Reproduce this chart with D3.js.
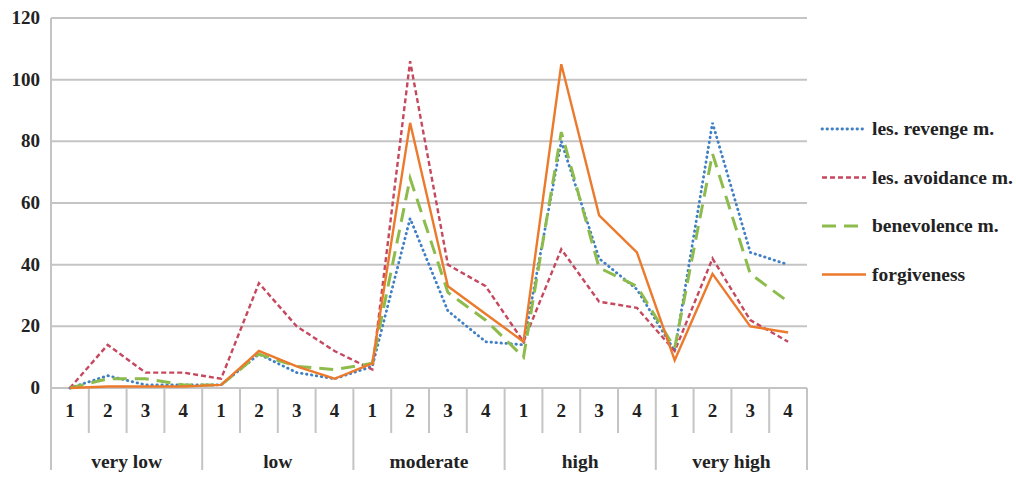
<!DOCTYPE html>
<html>
<head>
<meta charset="utf-8">
<script src="https://cdn.jsdelivr.net/npm/d3@7"></script>
<style>
  body { margin: 0; background: #fff; }
  text { font-family: "Liberation Serif", "DejaVu Serif", serif; fill: #222; }
</style>
</head>
<body>
<div id="chart"></div>
<script>
const groups = ["very low", "low", "moderate", "high", "very high"];
const subLabels = ["1", "2", "3", "4"];
const yTicks = [0, 20, 40, 60, 80, 100, 120];

const revenge     = [0, 4, 1, 1,   1, 11, 5, 3,   7, 55, 25, 15,   14, 80, 42, 32,   12, 86, 44, 40];
const avoidance   = [0, 14, 5, 5,  3, 34, 20, 12,  6, 106, 40, 33,  15, 45, 28, 26,   12, 42, 22, 15];
const benevolence = [0, 3, 3, 1,   1, 11, 7, 6,   8, 68, 31, 22,   10, 83, 39, 33,   13, 76, 37, 28];
const forgiveness = [0, 0.5, 0.5, 0.5, 1, 12, 7, 3, 8, 86, 33, 24, 15, 105, 56, 44, 9, 37, 20, 18];

const seriesNames = ["les. revenge m.", "les. avoidance m.", "benevolence m.", "forgiveness"];
const seriesValues = [revenge, avoidance, benevolence, forgiveness];
const seriesColors = ["#3f7fc4", "#c5485e", "#8dbb4c", "#ec7a2c"];
const seriesDash = ["0.5,4.5", "5,3", "14,8", null];
const seriesWidth = [2.8, 2.4, 3, 2.4];

const W = 1016, H = 480;
const plotLeft = 51, plotRight = 807, plotTop = 18, plotBottom = 388;

const svg = d3.select("#chart").append("svg")
    .attr("width", W).attr("height", H);

const cats = d3.range(groups.length * subLabels.length);

const x = d3.scaleBand()
    .domain(cats)
    .range([plotLeft, plotRight]);

const y = d3.scaleLinear()
    .domain([0, 120])
    .range([plotBottom, plotTop]);

// gridlines
svg.append("g").selectAll("line")
    .data(yTicks)
    .enter().append("line")
    .attr("x1", plotLeft).attr("x2", plotRight)
    .attr("y1", d => y(d)).attr("y2", d => y(d))
    .attr("stroke", "#c4c4c4").attr("stroke-width", 2);

// y axis labels
svg.append("g").selectAll("text")
    .data(yTicks)
    .enter().append("text")
    .attr("x", plotLeft - 11)
    .attr("y", d => y(d) + 6)
    .attr("text-anchor", "end")
    .attr("font-size", 19).attr("font-weight", "bold")
    .text(d => d);

// y axis line
svg.append("line")
    .attr("x1", plotLeft).attr("x2", plotLeft)
    .attr("y1", plotTop).attr("y2", 470)
    .attr("stroke", "#c4c4c4").attr("stroke-width", 2);

// category separators
svg.append("g").selectAll("line")
    .data(cats.concat([cats.length]))
    .enter().append("line")
    .attr("x1", d => d < cats.length ? x(d) : plotRight)
    .attr("x2", d => d < cats.length ? x(d) : plotRight)
    .attr("y1", plotBottom)
    .attr("y2", d => d % 4 === 0 ? 470 : 433)
    .attr("stroke", "#c4c4c4").attr("stroke-width", 2);

// sub labels
svg.append("g").selectAll("text")
    .data(cats)
    .enter().append("text")
    .attr("x", d => x(d) + x.bandwidth() / 2)
    .attr("y", 417)
    .attr("text-anchor", "middle")
    .attr("font-size", 19).attr("font-weight", "bold")
    .text(d => subLabels[d % 4]);

// group labels
svg.append("g").selectAll("text")
    .data(groups)
    .enter().append("text")
    .attr("x", (d, i) => x(i * 4) + x.bandwidth() * 2)
    .attr("y", 468)
    .attr("text-anchor", "middle")
    .attr("font-size", 19.5).attr("font-weight", "bold")
    .text(d => d);

const line = d3.line()
    .x((d, i) => x(i) + x.bandwidth() / 2)
    .y(d => y(d));

seriesValues.forEach((vals, k) => {
  svg.append("path")
      .datum(vals)
      .attr("d", line)
      .attr("fill", "none")
      .attr("stroke", seriesColors[k])
      .attr("stroke-width", seriesWidth[k])
      .attr("stroke-dasharray", seriesDash[k])
      .attr("stroke-linecap", k === 0 ? "round" : "butt")
      .attr("stroke-linejoin", "miter");
});

// legend
const legend = svg.append("g").selectAll("g")
    .data(seriesNames)
    .enter().append("g")
    .attr("transform", (d, i) => `translate(822,${129 + i * 48.5})`);

legend.append("line")
    .attr("x1", 0).attr("x2", 44)
    .attr("stroke", (d, i) => seriesColors[i])
    .attr("stroke-width", (d, i) => seriesWidth[i])
    .attr("stroke-dasharray", (d, i) => seriesDash[i])
    .attr("stroke-linecap", (d, i) => i === 0 ? "round" : "butt");

legend.append("text")
    .attr("x", 50).attr("y", 6)
    .attr("font-size", 19.5).attr("font-weight", "bold")
    .text(d => d);
</script>
</body>
</html>
